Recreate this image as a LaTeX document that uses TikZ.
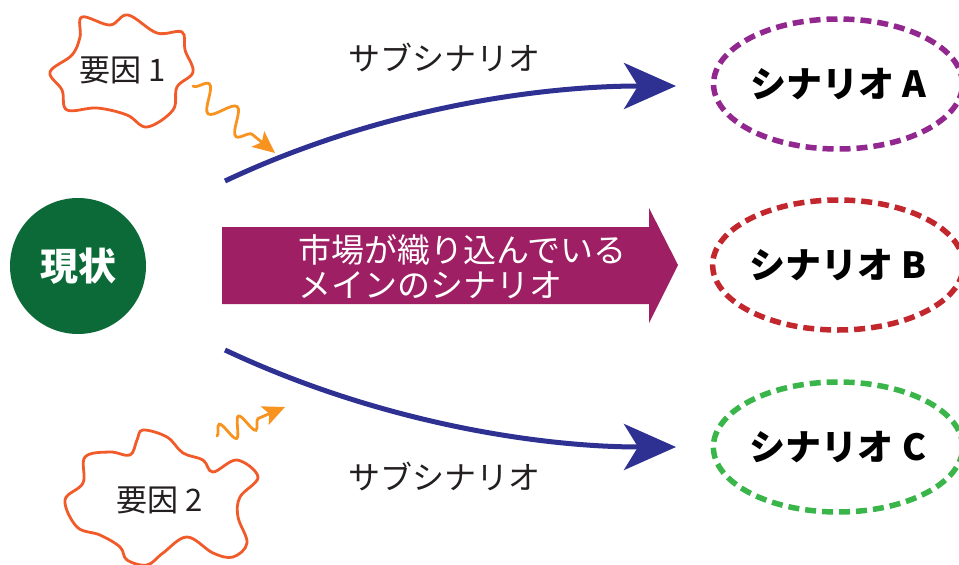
\documentclass[tikz,border=0pt]{standalone}
\usepackage{fontspec}
\newfontfamily\jp{Noto Sans CJK JP}
\usetikzlibrary{arrows.meta,shapes.geometric,decorations.pathmorphing}
\definecolor{nowgreen}{RGB}{11,106,56}
\definecolor{mainmag}{RGB}{158,31,99}
\definecolor{subblue}{RGB}{46,49,146}
\definecolor{cloudorange}{RGB}{241,90,41}
\definecolor{waveorange}{RGB}{247,147,30}
\definecolor{scA}{RGB}{146,39,143}
\definecolor{scB}{RGB}{193,39,45}
\definecolor{scC}{RGB}{57,181,74}
\definecolor{txt}{RGB}{35,31,32}
\tikzset{
  scen/.style={ellipse, draw, line width=5.5pt, dash pattern=on 11pt off 6pt,
    minimum width=235pt, minimum height=130pt, inner sep=0pt,
    font=\jp\bfseries\fontsize{36}{38}\selectfont, text=black},
  subarrow/.style={draw=subblue, line width=5pt,
    -{Stealth[length=52pt,width=46pt,inset=14pt]}},
  sublabel/.style={font=\jp\fontsize{32}{36}\selectfont, text=txt, inner sep=0pt},
  cloudline/.style={draw=cloudorange, line width=2.8pt, fill=white},
  factor/.style={font=\jp\fontsize{31}{34}\selectfont, text=txt, inner sep=0pt},
  wave/.style={draw=waveorange, line width=2.8pt, line cap=round,
    -{Stealth[length=22pt,width=20pt,inset=5pt]}},
}
\begin{document}
\begin{tikzpicture}[x=1pt,y=-1pt]
\useasboundingbox (0,0) rectangle (959,565);

% current state
\node[circle, fill=nowgreen, minimum size=136pt, inner sep=0pt,
      font=\jp\bfseries\fontsize{38}{40}\selectfont, text=white] (now) at (78,266) {現状};

% main arrow
\fill[mainmag] (222,227) -- (649,227) -- (649,208) -- (678,265) -- (649,323)
  -- (649,304) -- (222,304) -- cycle;
\node[anchor=west, align=left, text=white, inner sep=0pt,
      font=\jp\fontsize{33}{35}\selectfont] (main) at (298,267)
  {市場が織り込んでいる\\メインのシナリオ};

% scenarios
\node[scen, draw=scA] (A) at (838,84) {シナリオ A};
\node[scen, draw=scB] (B) at (838,265) {シナリオ B};
\node[scen, draw=scC] (C) at (838,447) {シナリオ C};

% sub scenario arrows
\coordinate (s1) at (225,181);
\coordinate (e1) at (676,86);
\coordinate (s2) at (225,350);
\coordinate (e2) at (676,447);
\draw[subarrow] (s1) .. controls (380,108) and (540,86) .. (e1);
\draw[subarrow] (s2) .. controls (380,423) and (540,447) .. (e2);
\node[sublabel] (l1) at (444,58) {サブシナリオ};
\node[sublabel] (l2) at (444,477) {サブシナリオ};

% factor clouds
\path[cloudline] plot[smooth cycle, tension=0.6] coordinates {
  (82,17) (110,25) (128,15) (157,33) (182,32) (185,50) (193,72) (177,87)
  (173,110) (147,127) (127,115) (97,108) (67,110) (62,90) (50,72) (72,55) (80,37)};
\node[factor] (f1) at (123,70) {要因 1};

\path[cloudline] plot[smooth cycle, tension=0.6] coordinates {
  (143,430) (167,437) (183,453) (203,460) (213,472) (237,460) (258,477)
  (240,497) (238,517) (247,543) (233,557) (213,553) (187,537) (163,553)
  (147,565) (127,560) (120,547) (100,535) (77,527) (65,500) (83,483)
  (85,457) (110,452) (130,455) (137,440)};
\node[factor] (f2) at (160,500) {要因 2};

% influence waves
\coordinate (w1s) at (193,86);
\coordinate (w1e) at (275,153);
\coordinate (w2s) at (217,436);
\coordinate (w2e) at (285,407);
\draw[wave, decorate, decoration={snake, amplitude=12pt, segment length=36pt,
  post length=20pt}] (w1s) -- (w1e);
\draw[wave, decorate, decoration={snake, amplitude=10pt, segment length=21pt,
  post length=20pt}] (w2s) -- (w2e);
\end{tikzpicture}
\end{document}
